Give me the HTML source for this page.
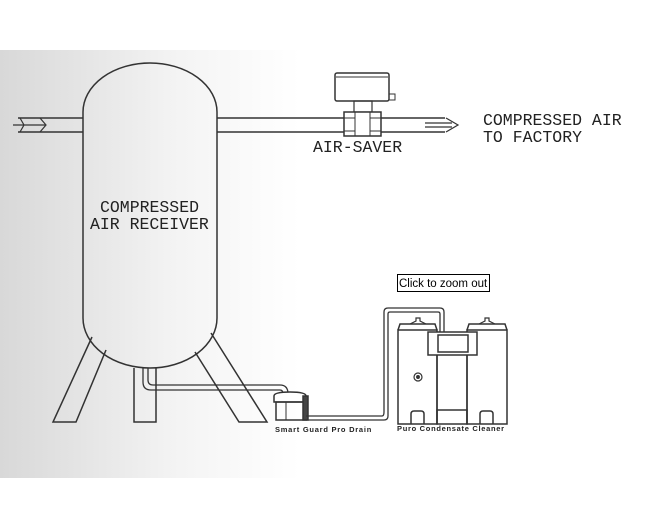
<!DOCTYPE html>
<html><head><meta charset="utf-8"><style>
html,body{margin:0;padding:0;background:#fff;}
body{width:650px;height:529px;overflow:hidden;position:relative;}
svg{position:absolute;left:0;top:0;}
</style></head><body>
<svg width="650" height="529" viewBox="0 0 650 529" xmlns="http://www.w3.org/2000/svg">
<defs>
<linearGradient id="g" x1="0" x2="1" y1="0" y2="0">
<stop offset="0" stop-color="#d8d8d8"/><stop offset="0.6" stop-color="#f4f4f4"/><stop offset="1" stop-color="#ffffff"/>
</linearGradient>
</defs>
<rect x="0" y="50" width="300" height="428" fill="url(#g)"/>
<g fill="none" stroke="#333" stroke-width="1.5">
<line x1="18" y1="118" x2="83" y2="118"/><line x1="18" y1="132" x2="83" y2="132"/>
<path d="M13 125 H45 M20 118 L24 125 L20 132 M40 118 L46 125 L40 132" stroke-width="1.2"/>
<path d="M83 112 A67 49 0 0 1 217 112 V318 A67 50 0 0 1 83 318 Z" fill="none"/>
<path d="M92 337 L53 422 L76 422 L106 350"/>
<path d="M134 368 V422 H156 V368"/>
<path d="M211 333 L267 422 L239 422 L195 352"/>
<path d="M143 368 V382 Q143 390 151 390 H280 Q283 390 283 394" stroke-width="1.3"/>
<path d="M148 368 V380 Q148 385 153 385 H280 Q288 385 288 394" stroke-width="1.3"/>
<line x1="217" y1="118" x2="344" y2="118"/><line x1="217" y1="132" x2="344" y2="132"/>
<line x1="381" y1="118" x2="445" y2="118"/><line x1="381" y1="132" x2="445" y2="132"/>
<path d="M425 123 H452 M425 127 H452 M446 118 L458 125 L446 132" stroke-width="1.2"/>
<rect x="335" y="73" width="54" height="28" rx="2" fill="#fff"/>
<line x1="336" y1="77" x2="388" y2="77" stroke-width="1"/>
<rect x="389" y="94" width="6" height="6" stroke-width="1"/>
<rect x="354" y="101" width="18" height="11" stroke-width="1.2"/>
<rect x="344" y="112" width="37" height="24" fill="#fff"/>
<line x1="355" y1="112" x2="355" y2="136" stroke-width="1"/><line x1="370" y1="112" x2="370" y2="136" stroke-width="1"/>
<line x1="344" y1="118" x2="355" y2="118" stroke-width="1"/><line x1="370" y1="118" x2="381" y2="118" stroke-width="1"/>
<line x1="344" y1="131" x2="355" y2="131" stroke-width="1"/><line x1="370" y1="131" x2="381" y2="131" stroke-width="1"/>
<path d="M274 396 Q274 392 290 392 Q306 392 306 396 V402 H274 Z" fill="#fff"/>
<rect x="276" y="402" width="30" height="18"/>
<rect x="303" y="396" width="5" height="24" fill="#444"/>
<line x1="286" y1="402" x2="286" y2="420" stroke-width="1"/>
<path d="M306 416 H382 Q384 416 384 412 V312 Q384 308 388 308 H440 Q444 308 444 312 V333" stroke-width="1.3"/>
<path d="M306 420 H384 Q388 420 388 416 V314 Q388 312 390 312 H438 Q440 312 440 314 V333" stroke-width="1.3"/>
<path d="M398 330 V424 H437 V330 Z" fill="#fff"/>
<path d="M398 330 L400 324 H435 L437 330" />
<path d="M410 324 L416 321 V318 H420 V321 L426 324" stroke-width="1.2"/>
<path d="M467 330 V424 H507 V330 Z" fill="#fff"/>
<path d="M467 330 L469 324 H505 L507 330"/>
<path d="M479 324 L485 321 V318 H489 V321 L495 324" stroke-width="1.2"/>
<rect x="428" y="332" width="49" height="23" fill="#fff"/>
<rect x="438" y="335" width="30" height="17"/>
<line x1="437" y1="355" x2="437" y2="424"/><line x1="467" y1="355" x2="467" y2="424"/>
<rect x="437" y="410" width="30" height="14"/>
<path d="M411 424 V414 Q411 411 414 411 H421 Q424 411 424 414 V424"/>
<path d="M480 424 V414 Q480 411 483 411 H490 Q493 411 493 414 V424"/>
<circle cx="418" cy="377" r="4" stroke-width="1.2"/><circle cx="418" cy="377" r="1.2" fill="#333"/>
</g>
<g font-family="Liberation Mono, monospace" font-size="16.5" fill="#222">
<text x="100" y="212">COMPRESSED</text>
<text x="90" y="229">AIR RECEIVER</text>
<text x="313" y="152">AIR-SAVER</text>
<text x="483" y="125">COMPRESSED AIR</text>
<text x="483" y="142">TO FACTORY</text>
</g>
<g font-family="Liberation Sans, sans-serif" font-size="7.5" font-weight="bold" fill="#222">
<text x="275" y="432" letter-spacing="0.75">Smart Guard Pro Drain</text>
<text x="397" y="431" letter-spacing="0.7">Puro Condensate Cleaner</text>
</g>
<rect x="397.5" y="274.5" width="92" height="17" fill="#fff" stroke="#000" stroke-width="1"/>
<text x="399" y="287" font-family="Liberation Sans, sans-serif" font-size="11.5" fill="#000">Click to zoom out</text>
</svg>
</body></html>
